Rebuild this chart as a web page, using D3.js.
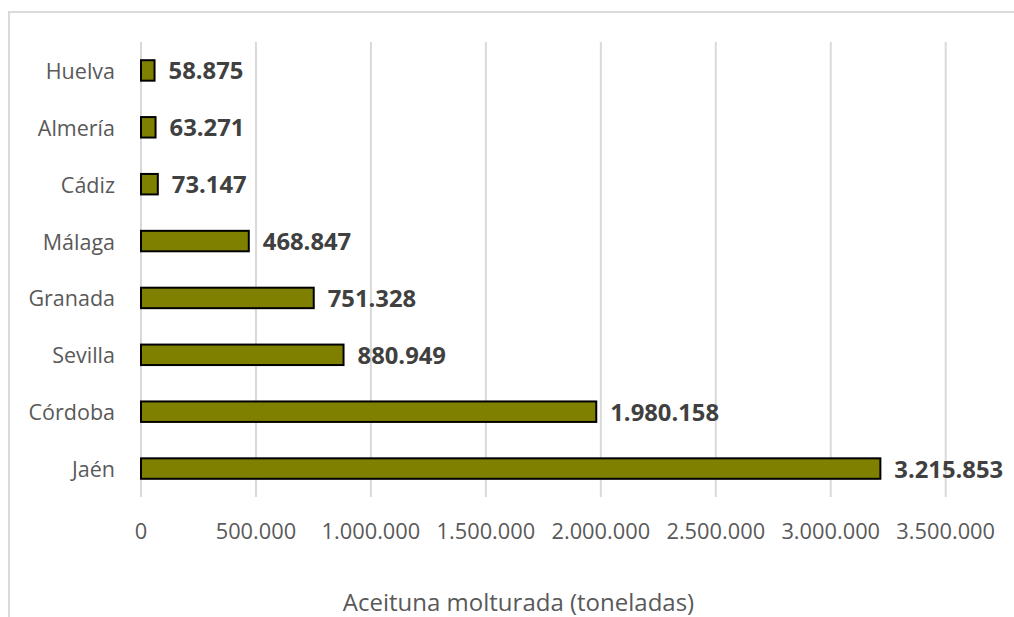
<!DOCTYPE html>
<html>
<head>
<meta charset="utf-8">
<script src="https://cdn.jsdelivr.net/npm/d3@7"></script>
<style>
  html, body { margin: 0; padding: 0; background: #fff; }
  svg { display: block; }
  text { font-family: "Open Sans", sans-serif; }
</style>
</head>
<body>
<svg id="chart" width="1014" height="617"></svg>
<script>
const categories = ["Huelva", "Almería", "Cádiz", "Málaga", "Granada", "Sevilla", "Córdoba", "Jaén"];
const values = [58875, 63271, 73147, 468847, 751328, 880949, 1980158, 3215853];
const tickValues = [0, 500000, 1000000, 1500000, 2000000, 2500000, 3000000, 3500000];
const axisTitle = "Aceituna molturada (toneladas)";

(function () {
const data = categories.map((c, i) => ({ cat: c, val: values[i] }));
const fmt = v => d3.format(",")(v).replace(/,/g, ".");

const svg = d3.select("#chart");

// outer frame
svg.append("rect")
  .attr("x", 9).attr("y", 12)
  .attr("width", 1030).attr("height", 640)
  .attr("fill", "none").attr("stroke", "#d9d9d9").attr("stroke-width", 2);

const pLeft = 141, pRight = 945.7, pTop = 42, pBottom = 497;
const x = d3.scaleLinear().domain([0, 3500000]).range([pLeft, pRight]);
const pad = 0.64;
const y = d3.scaleBand().domain(categories).range([pTop, pBottom]).paddingInner(pad).paddingOuter(pad / 2);

// gridlines
svg.append("g").selectAll("line").data(tickValues).join("line")
  .attr("x1", d => x(d)).attr("x2", d => x(d))
  .attr("y1", pTop).attr("y2", pBottom)
  .attr("stroke", "#d9d9d9").attr("stroke-width", 2);

// tick labels
svg.append("g").selectAll("text").data(tickValues).join("text")
  .attr("x", d => x(d)).attr("y", 530)
  .attr("text-anchor", "middle").attr("dominant-baseline", "central")
  .attr("fill", "#595959").attr("font-size", 21.8)
  .text(d => fmt(d));

// category labels
svg.append("g").selectAll("text").data(data).join("text")
  .attr("x", 115).attr("y", d => y(d.cat) + y.bandwidth() / 2)
  .attr("text-anchor", "end").attr("dominant-baseline", "central")
  .attr("fill", "#595959").attr("font-size", 21.5)
  .text(d => d.cat);

// bars
svg.append("g").selectAll("rect").data(data).join("rect")
  .attr("x", x(0))
  .attr("y", d => y(d.cat))
  .attr("width", d => x(d.val) - x(0))
  .attr("height", y.bandwidth())
  .attr("fill", "#808000")
  .attr("stroke", "#000").attr("stroke-width", 2);

// value labels
svg.append("g").selectAll("text").data(data).join("text")
  .attr("x", d => x(d.val) + 14).attr("y", d => y(d.cat) + y.bandwidth() / 2)
  .attr("dominant-baseline", "central")
  .attr("fill", "#404040").attr("font-size", 23.8).attr("font-weight", "bold")
  .text(d => fmt(d.val));

// axis title
svg.append("text")
  .attr("x", 518.5).attr("y", 601)
  .attr("text-anchor", "middle").attr("dominant-baseline", "central")
  .attr("fill", "#595959").attr("font-size", 24)
  .text(axisTitle);
})();
</script>
</body>
</html>
